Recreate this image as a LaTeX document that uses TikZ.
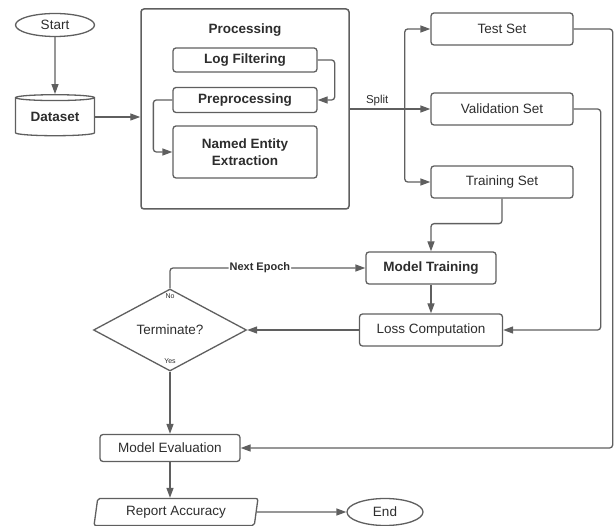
\documentclass[tikz,border=0pt]{standalone}
\usepackage{fontspec}
\setmainfont{Liberation Sans}
\usetikzlibrary{arrows.meta,positioning,shapes.geometric}
\definecolor{linegray}{RGB}{95,95,95}
\definecolor{txtgray}{RGB}{45,45,45}

\begin{document}
\begin{tikzpicture}[
 x=1pt,y=-1pt,on grid,
 every node/.style={text=txtgray,font=\fontsize{13.5}{17}\selectfont},
 box/.style={draw=linegray,line width=1.3pt,rounded corners=3pt,align=center,inner sep=0pt,minimum width=142pt,minimum height=32pt},
 bbox/.style={box,font=\bfseries\fontsize{13.5}{17}\selectfont},
 term/.style={ellipse,draw=linegray,line width=1.3pt,inner sep=0pt,minimum width=79pt,minimum height=23pt},
 store/.style={cylinder,shape border rotate=90,aspect=0.12,draw=linegray,line width=1.3pt,inner sep=0pt,minimum width=79pt,minimum height=41pt,font=\bfseries\fontsize{13.5}{17}\selectfont},
 frame/.style={draw=linegray,line width=1.5pt,rounded corners=3pt,minimum width=208pt,minimum height=200pt},
 decision/.style={diamond,draw=linegray,line width=1.3pt,aspect=1.87,inner sep=0pt,minimum width=153pt,minimum height=82pt},
 io/.style={trapezium,trapezium left angle=79,trapezium right angle=101,trapezium stretches=true,draw=linegray,line width=1.3pt,rounded corners=2pt,inner sep=0pt,minimum width=164pt,minimum height=27pt},
 arr/.style={-{Stealth[length=10pt,width=7pt,inset=0pt]},draw=linegray,line width=1.3pt,rounded corners=3pt},
 small/.style={font=\fontsize{11.5}{13}\selectfont},
 tiny/.style={font=\fontsize{7}{8}\selectfont}
]
\useasboundingbox (0,0) rectangle (614,526);
\node[term] (start) at (55,25) {Start};
\node[store,below=92pt of start] (data) {Dataset};
\node[frame,right=190pt of data,yshift=8pt] (proc) {};
\node[font=\bfseries\fontsize{13.5}{17}\selectfont,above=79pt of proc] (ptitle) {Processing};
\node[bbox,minimum width=144pt,minimum height=24pt,above=49pt of proc] (logf) {Log Filtering};
\node[bbox,minimum width=144pt,minimum height=25pt,below=40pt of logf] (prep) {Preprocessing};
\node[bbox,minimum width=144pt,minimum height=52pt,below=52pt of prep] (ner) {Named Entity\\Extraction};
\coordinate[right=55pt of proc.east] (split);
\node[box,right=257pt of proc] (val) {Validation Set};
\node[box,above=80pt of val] (test) {Test Set};
\node[box,below=73pt of val] (train) {Training Set};
\node[bbox,minimum width=130pt,below left=86pt and 71pt of train] (mtrain) {Model Training};
\node[box,minimum width=143pt,below=62pt of mtrain] (loss) {Loss Computation};
\node[decision,left=261pt of loss] (stop) {Terminate?};
\node[box,minimum width=140pt,minimum height=27pt,below=118pt of stop] (meval) {Model Evaluation};
\node[io,below=64pt of meval,xshift=6pt] (report) {Report Accuracy};
\node[term,minimum width=76pt,minimum height=27pt,right=209pt of report] (end) {End};
\node[tiny,above=34pt of stop] (no) {No};
\node[tiny,below=31pt of stop] (yes) {Yes};

\draw[arr] (start)--(data);
\draw[arr] (data.east)--(data.east -| proc.west);
\draw[arr] (logf.east)-- ++(17,0) |- (prep.east);
\draw[arr] (prep.west)-- ++(-19,0) |- (ner.west);
\draw[arr,-] (proc.east)--(split) node[midway,above=1pt,inner sep=1pt,small] {Split};
\draw[arr] (split) |- (test.west);
\draw[arr] (split)--(val.west);
\draw[arr] (split) |- (train.west);
\draw[arr] (test.east)-- ++(39,0) |- (meval.east);
\draw[arr] (val.east)-- ++(27,0) |- (loss.east);
\draw[arr] (train.south)-- ++(0,25) -| (mtrain.north);
\draw[arr] (mtrain)--(loss);
\draw[arr] (loss)--(stop);
\draw[arr] (stop.north) |- (mtrain.west) node[pos=0.73,fill=white,inner sep=1pt,font=\bfseries\fontsize{11}{13}\selectfont] {Next Epoch};
\draw[arr] (stop.south)--(meval);
\draw[arr] (meval.south)--(meval.south |- report.north);
\draw[arr] (report)--(end);
\end{tikzpicture}
\end{document}
